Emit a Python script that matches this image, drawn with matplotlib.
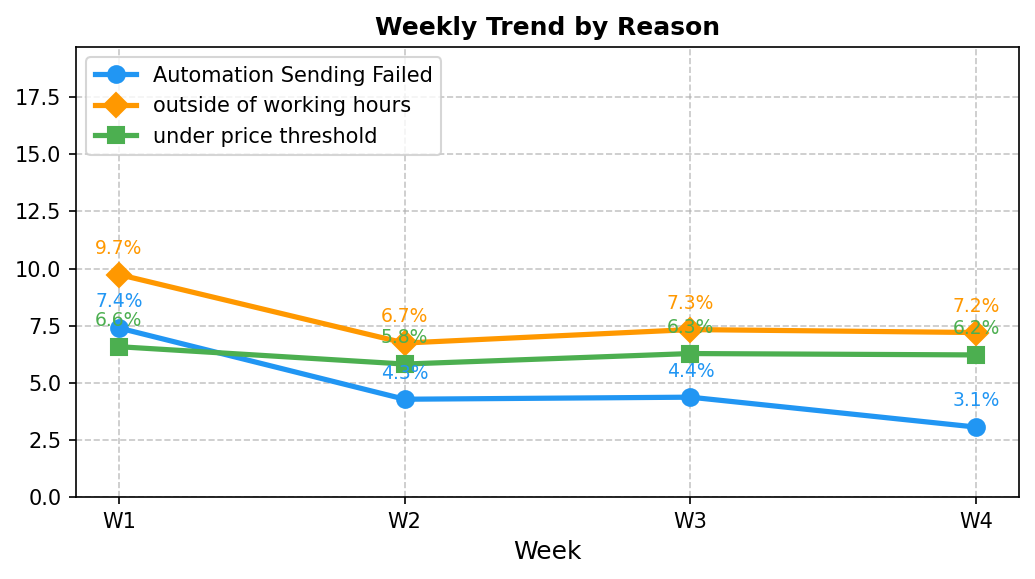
import matplotlib
matplotlib.use("Agg")
import matplotlib.pyplot as plt

weeks = ["W1", "W2", "W3", "W4"]
automation = [7.4, 4.28, 4.37, 3.06]
outside_hours = [9.74, 6.74, 7.33, 7.2]
under_price = [6.58, 5.82, 6.28, 6.22]

series = [
    ("Automation Sending Failed", automation, "#2196F3", "o"),
    ("outside of working hours", outside_hours, "#FF9800", "D"),
    ("under price threshold", under_price, "#4CAF50", "s"),
]

fig, ax = plt.subplots(figsize=(6.9, 3.86), dpi=150)
x = range(len(weeks))
for name, vals, color, marker in series:
    ax.plot(x, vals, marker=marker, color=color, linewidth=2.5, markersize=8, label=name)
    for xi, v in zip(x, vals):
        ax.annotate(f"{v:.1f}%", (xi, v), xytext=(0, 8), textcoords="offset points",
                    ha="center", va="bottom", fontsize=9, color=color)

ax.set_xticks(list(x))
ax.set_xticklabels(weeks)
ax.set_ylim(0, 19.7)
ax.set_xlabel("Week", fontsize=12)
ax.set_title("Weekly Trend by Reason", fontsize=12, fontweight="bold")
ax.grid(True, linestyle="--", alpha=0.7)
ax.legend(loc="upper left")
fig.subplots_adjust(left=76/1035, right=1019/1035, top=1-47/579, bottom=1-497/579)
plt.savefig("out.png")
